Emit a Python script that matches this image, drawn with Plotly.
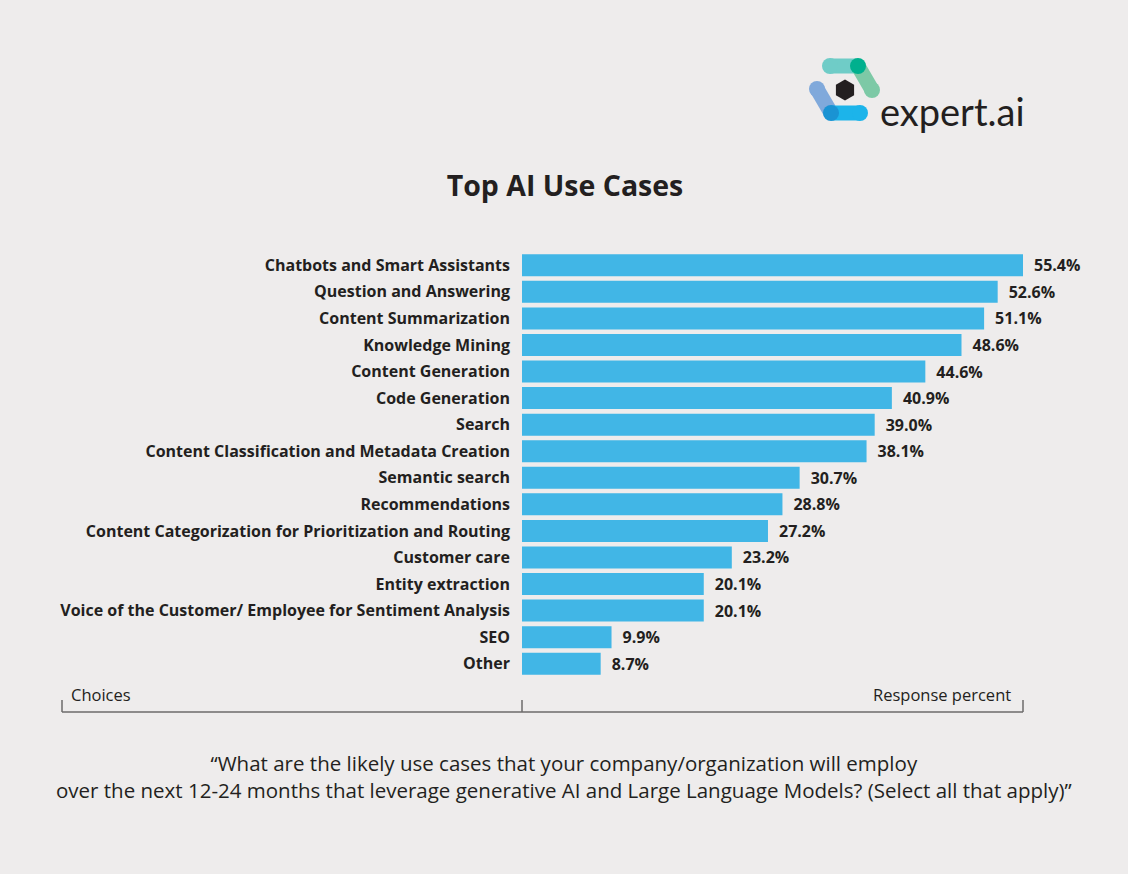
import plotly.graph_objects as go
import math

categories = [
    "Chatbots and Smart Assistants",
    "Question and Answering",
    "Content Summarization",
    "Knowledge Mining",
    "Content Generation",
    "Code Generation",
    "Search",
    "Content Classification and Metadata Creation",
    "Semantic search",
    "Recommendations",
    "Content Categorization for Prioritization and Routing",
    "Customer care",
    "Entity extraction",
    "Voice of the Customer/ Employee for Sentiment Analysis",
    "SEO",
    "Other",
]
values = [55.4, 52.6, 51.1, 48.6, 44.6, 40.9, 39.0, 38.1, 30.7, 28.8, 27.2, 23.2, 20.1, 20.1, 9.9, 8.7]

W, H = 1128, 874
ML, MR, MT, MB = 522, 105, 252, 197
PW, PH = W - ML - MR, H - MT - MB

BG = "#EEECEC"
BAR = "#41B6E6"
TXT = "#231F20"
FONT = "Open Sans"


def px(x):
    return (x - ML) / PW


def py(y):
    return (H - MB - y) / PH


fig = go.Figure()
fig.add_trace(go.Bar(
    x=values,
    y=categories,
    orientation="h",
    marker=dict(color=BAR, line=dict(width=0)),
    text=["\u2002" + f"{v:.1f}%" for v in values],
    textposition="outside",
    cliponaxis=False,
    textfont=dict(family=FONT, size=16, color=TXT, weight="bold"),
    hoverinfo="skip",
))

shapes = []
LC = "#6d6b6b"
shapes.append(dict(type="line", xref="paper", yref="paper", x0=px(62), x1=px(1023), y0=py(712), y1=py(712), line=dict(color=LC, width=1.5)))
for xx in (62, 522, 1023):
    shapes.append(dict(type="line", xref="paper", yref="paper", x0=px(xx), x1=px(xx), y0=py(700), y1=py(712), line=dict(color=LC, width=1.5)))


def circle(cx, cy, r, color):
    return dict(type="circle", xref="paper", yref="paper", x0=px(cx - r), x1=px(cx + r),
                y0=py(cy + r), y1=py(cy - r), fillcolor=color, line=dict(width=0), layer="above")


def seg(xa, ya, xb, yb, color, w=15):
    return dict(type="line", xref="paper", yref="paper", x0=px(xa), x1=px(xb), y0=py(ya), y1=py(yb),
                line=dict(color=color, width=w), layer="above")


R = 8
shapes += [
    seg(830, 66, 858, 66, "#6FCCC7"),
    seg(858, 66, 872, 90, "#7DC9A6"),
    seg(817, 89, 831, 113, "#80A9DB"),
    seg(831, 113, 860, 113, "#1CB4EA"),
    circle(830, 66, R, "#6FCCC7"),
    circle(872, 90, R, "#7DC9A6"),
    circle(858, 66, R, "#00B08E"),
    circle(817, 89, R, "#80A9DB"),
    circle(860, 113, R, "#1CB4EA"),
    circle(831, 113, R, "#1A93D3"),
]
hx, hy, hr = 845, 90, 10.5
pts = []
for k in range(6):
    a = math.radians(90 + 60 * k)
    pts.append((px(hx + hr * math.cos(a)), py(hy - hr * math.sin(a))))
path = "M " + " L ".join(f"{a},{b}" for a, b in pts) + " Z"
shapes.append(dict(type="path", xref="paper", yref="paper", path=path, fillcolor="#231F20", line=dict(width=0), layer="above"))

annotations = [
    dict(text="expert.ai", x=px(878), y=py(111), xref="paper", yref="paper", xanchor="left", yanchor="middle",
         showarrow=False, font=dict(family="Lato", size=38, color="#231F20")),
    dict(text="Choices", x=px(69), y=py(694), xref="paper", yref="paper", xanchor="left", yanchor="middle",
         showarrow=False, font=dict(family=FONT, size=16.5, color=TXT)),
    dict(text="Response percent", x=px(1013), y=py(694), xref="paper", yref="paper", xanchor="right", yanchor="middle",
         showarrow=False, font=dict(family=FONT, size=16.5, color=TXT)),
    dict(text="\u201cWhat are the likely use cases that your company/organization will employ<br>over the next 12-24 months that leverage generative AI and Large Language Models? (Select all that apply)\u201d",
         x=px(564), y=py(776), xref="paper", yref="paper", xanchor="center", yanchor="middle",
         showarrow=False, align="center", font=dict(family=FONT, size=20.5, color=TXT)),
]

fig.update_layout(
    width=W, height=H,
    margin=dict(l=ML, r=MR, t=MT, b=MB, pad=0),
    paper_bgcolor=BG, plot_bgcolor=BG,
    bargap=0.17,
    showlegend=False,
    title=dict(text="<b>Top AI Use Cases</b>", x=565 / W, y=1 - 186 / H, xanchor="center", yanchor="middle",
               xref="container", yref="container", font=dict(family=FONT, size=28.5, color=TXT)),
    xaxis=dict(range=[0, 55.4], visible=False, fixedrange=True),
    yaxis=dict(autorange="reversed", showgrid=False, zeroline=False, showline=False, ticks="",
               ticklabelstandoff=11,
               tickfont=dict(family=FONT, size=16, color=TXT, weight="bold"), fixedrange=True),
    shapes=shapes,
    annotations=annotations,
)

fig.write_html("out.html")
